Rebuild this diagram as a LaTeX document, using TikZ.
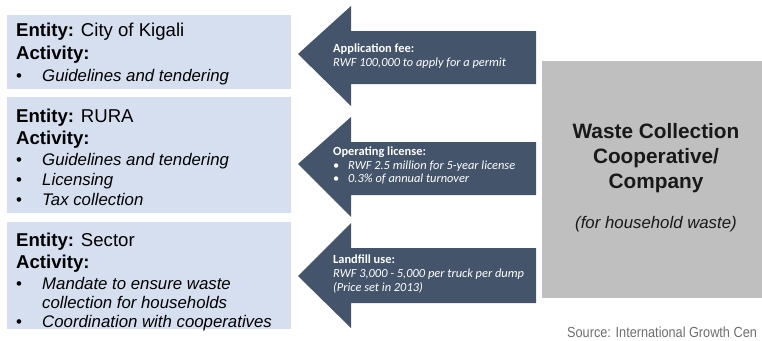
\documentclass[tikz,border=0pt]{standalone}
\usepackage{fontspec}
\setmainfont{Liberation Sans}
\newfontfamily\calfont{Carlito}
\newfontfamily\srcfont[FakeStretch=0.87]{Liberation Sans}
\usepackage{xcolor}
\definecolor{boxblue}{RGB}{214,223,239}
\definecolor{arrowslate}{RGB}{68,84,106}
\definecolor{coopgray}{RGB}{191,191,191}
\definecolor{srcgray}{RGB}{110,110,110}

\begin{document}
\begin{tikzpicture}[x=1pt,y=-1pt,
  entbox/.style={fill=boxblue},
  headline/.style={anchor=base west,inner sep=0pt,font=\fontsize{18.6}{22}\selectfont},
  itemline/.style={anchor=base west,inner sep=0pt,font=\fontsize{16.8}{20}\selectfont\itshape},
  feearrow/.style={fill=arrowslate},
  feehead/.style={anchor=base west,inner sep=0pt,text=white,font=\calfont\fontsize{12.4}{14}\selectfont\bfseries},
  feeline/.style={anchor=base west,inner sep=0pt,text=white,font=\calfont\fontsize{12.4}{14}\selectfont\itshape},
  cooptitle/.style={anchor=base,inner sep=0pt,text=black!90,font=\fontsize{20.8}{25}\selectfont\bfseries}]
\clip (0,0) rectangle (762,340);
\useasboundingbox (0,0) rectangle (762,340);

% entity boxes
\fill[entbox] (7,15) rectangle (291,89);
\fill[entbox] (7,97) rectangle (291,213);
\fill[entbox] (7,222) rectangle (291,329);

\node[headline] (kigEnt) at (16,36) {\textbf{Entity:} City of Kigali};
\node[headline] (kigAct) at (16,59) {\textbf{Activity:}};
\node[itemline] (kigA) at (16,81) {\makebox[26pt][l]{\upshape\textbullet}Guidelines and tendering};

\node[headline] (ruraEnt) at (16,122) {\textbf{Entity:} RURA};
\node[headline] (ruraAct) at (16,144) {\textbf{Activity:}};
\node[itemline] (ruraA) at (16,165) {\makebox[26pt][l]{\upshape\textbullet}Guidelines and tendering};
\node[itemline] (ruraB) at (16,185) {\makebox[26pt][l]{\upshape\textbullet}Licensing};
\node[itemline] (ruraC) at (16,205) {\makebox[26pt][l]{\upshape\textbullet}Tax collection};

\node[headline] (secEnt) at (16,246) {\textbf{Entity:} Sector};
\node[headline] (secAct) at (16,268) {\textbf{Activity:}};
\node[itemline] (secA) at (16,289) {\makebox[26pt][l]{\upshape\textbullet}Mandate to ensure waste};
\node[itemline] (secA2) at (42,308) {collection for households};
\node[itemline] (secB) at (16,327) {\makebox[26pt][l]{\upshape\textbullet}Coordination with cooperatives};

% fee arrows pointing left
\fill[feearrow] (298,54) -- (351,6) -- (351,31) -- (536,31) -- (536,84) -- (351,84) -- (351,106) -- cycle;
\fill[feearrow] (298,164) -- (351,117) -- (351,142) -- (536,142) -- (536,195) -- (351,195) -- (351,217) -- cycle;
\fill[feearrow] (298,276) -- (351,223) -- (351,248) -- (536,248) -- (536,303) -- (351,303) -- (351,328) -- cycle;

\node[feehead] (appHead) at (333,52) {Application fee:};
\node[feeline] (appA) at (333,66) {RWF 100,000 to apply for a permit};

\node[feehead] (opHead) at (333,155) {Operating license:};
\node[feeline] (opA) at (333,169) {\makebox[15pt][l]{\upshape\textbullet}RWF 2.5 million for 5-year license};
\node[feeline] (opB) at (333,182) {\makebox[15pt][l]{\upshape\textbullet}0.3\% of annual turnover};

\node[feehead] (lfHead) at (333,263) {Landfill use:};
\node[feeline] (lfA) at (333,277) {RWF 3,000 - 5,000 per truck per dump};
\node[feeline] (lfB) at (333,291) {(Price set in 2013)};

% cooperative box
\fill[coopgray] (542,61) rectangle (770,298);
\node[cooptitle] (coopA) at (656,138) {Waste Collection};
\node[cooptitle] (coopB) at (656,163) {Cooperative/};
\node[cooptitle] (coopC) at (656,188) {Company};
\node[anchor=base,inner sep=0pt,text=black!90,font=\fontsize{16.8}{20}\selectfont\itshape] (coopNote) at (656,228) {(for household waste)};

\node[anchor=base west,inner sep=0pt,text=srcgray,font=\srcfont\fontsize{14.6}{18}\selectfont] (source) at (567,337) {Source: International Growth Cen};
\end{tikzpicture}
\end{document}
